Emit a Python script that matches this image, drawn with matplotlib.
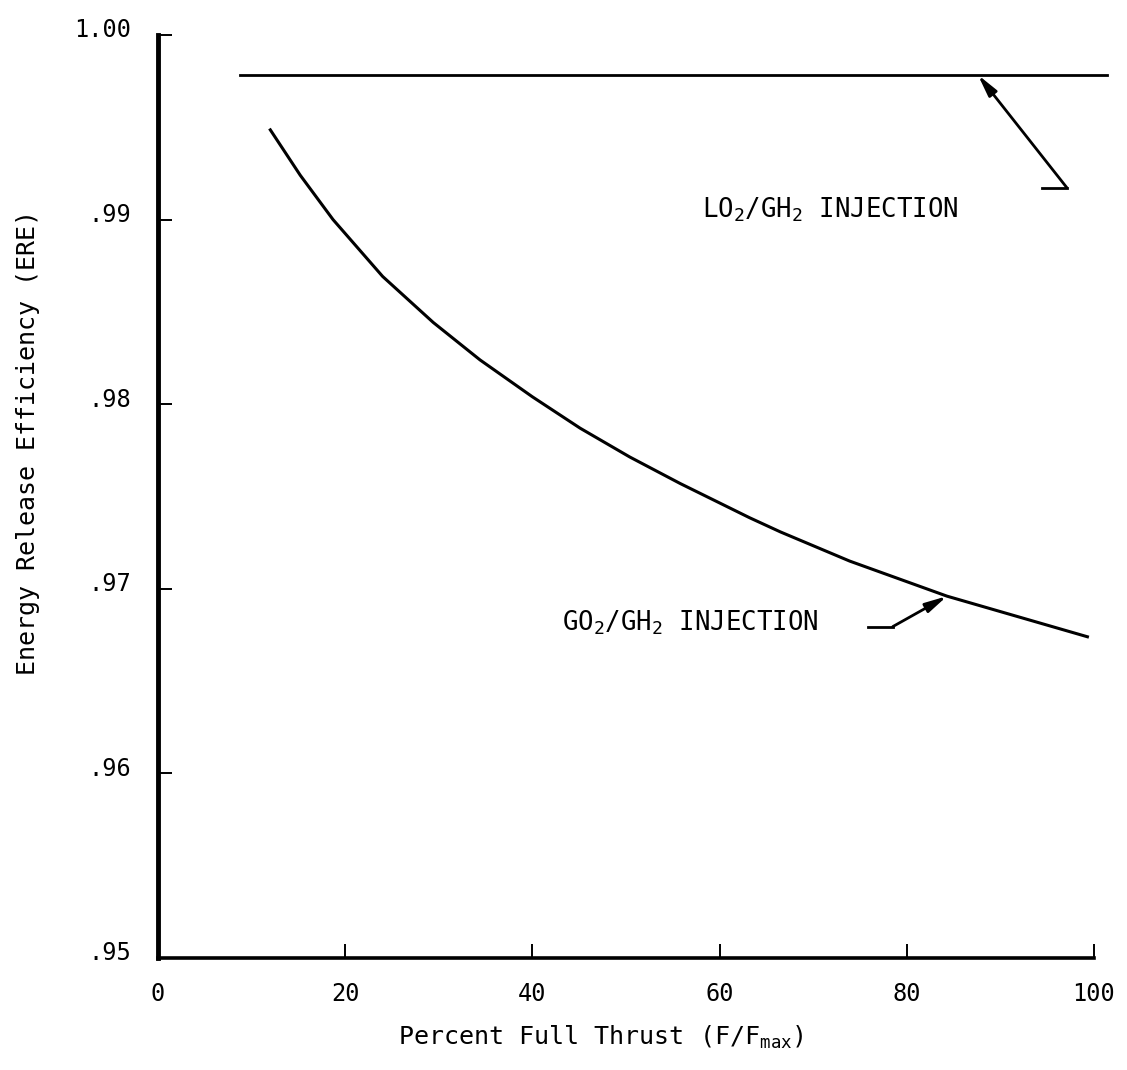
import matplotlib
matplotlib.use("Agg")
import matplotlib.pyplot as plt
from matplotlib.transforms import ScaledTranslation

plt.rcParams['font.family'] = ['DejaVu Sans Mono', 'DejaVu Sans']
plt.rcParams['mathtext.default'] = 'regular'

# GO2/GH2 injection curve
thrust_go2 = [12.0, 15.2, 18.7, 24.0, 29.4, 34.4, 40.0, 45.1, 50.4, 55.8, 63.2, 66.5, 73.9, 84.3, 99.3]
ere_go2 = [0.99486, 0.99240, 0.99000, 0.98692, 0.98443, 0.98240, 0.98040, 0.97870,
           0.97714, 0.97570, 0.97385, 0.97308, 0.97150, 0.96960, 0.96740]

# LO2/GH2 injection (flat)
thrust_lo2 = [8.8, 101.4]
ere_lo2 = [0.99784, 0.99784]

x_ticks = [0, 20, 40, 60, 80, 100]
y_ticks = [0.95, 0.96, 0.97, 0.98, 0.99, 1.00]
y_tick_labels = ['.95', '.96', '.97', '.98', '.99', '1.00']

fig = plt.figure(figsize=(11.27, 10.70), dpi=100)
ax = fig.add_axes([0.1402, 0.1047, 0.8305, 0.8626])

ax.plot(thrust_lo2, ere_lo2, color='black', lw=2.0, clip_on=False)
ax.plot(thrust_go2, ere_go2, color='black', lw=2.2)

ax.set_xlim(0, 100)
ax.set_ylim(0.95, 1.00)
ax.set_xticks(x_ticks)
ax.set_yticks(y_ticks)
ax.set_yticklabels(y_tick_labels)

for s in ['top', 'right']:
    ax.spines[s].set_visible(False)
ax.spines['left'].set_linewidth(3.5)
ax.spines['bottom'].set_linewidth(2.6)

ax.tick_params(axis='both', direction='in', length=10, width=1.4, labelsize=17)
ax.tick_params(axis='y', pad=19)
ax.tick_params(axis='x', pad=17)

# y labels sit a bit above their ticks in the original
shift = ScaledTranslation(0, 7 / 100, fig.dpi_scale_trans)
for lab in ax.get_yticklabels():
    lab.set_transform(lab.get_transform() + shift)

arrow = dict(arrowstyle='-|>,head_length=1.3,head_width=0.3',
             color='black', lw=2.0, shrinkA=0, shrinkB=0)

# leaders + labels
ax.plot([94.4, 97.1], [0.99173, 0.99173], color='black', lw=2.0)
ax.annotate('', xy=(87.6, 0.99784), xytext=(97.1, 0.99173), arrowprops=arrow)
ax.text(58.1, 0.99011, 'LO$_2$/GH$_2$ INJECTION', fontsize=18.5, ha='left', va='baseline')

ax.plot([75.9, 78.5], [0.96795, 0.96795], color='black', lw=2.0)
ax.annotate('', xy=(84.3, 0.96960), xytext=(78.5, 0.96795), arrowprops=arrow)
ax.text(43.2, 0.96773, 'GO$_2$/GH$_2$ INJECTION', fontsize=18.5, ha='left', va='baseline')

fig.text(28 / 1127, 1 - 442 / 1070, 'Energy Release Efficiency (ERE)', rotation=90,
         fontsize=18, ha='center', va='center')
fig.text(601 / 1127, 1 - 1045 / 1070, 'Percent Full Thrust (F/F$_{max}$)',
         fontsize=18, ha='center', va='baseline')

fig.savefig('out.png', dpi=100)
